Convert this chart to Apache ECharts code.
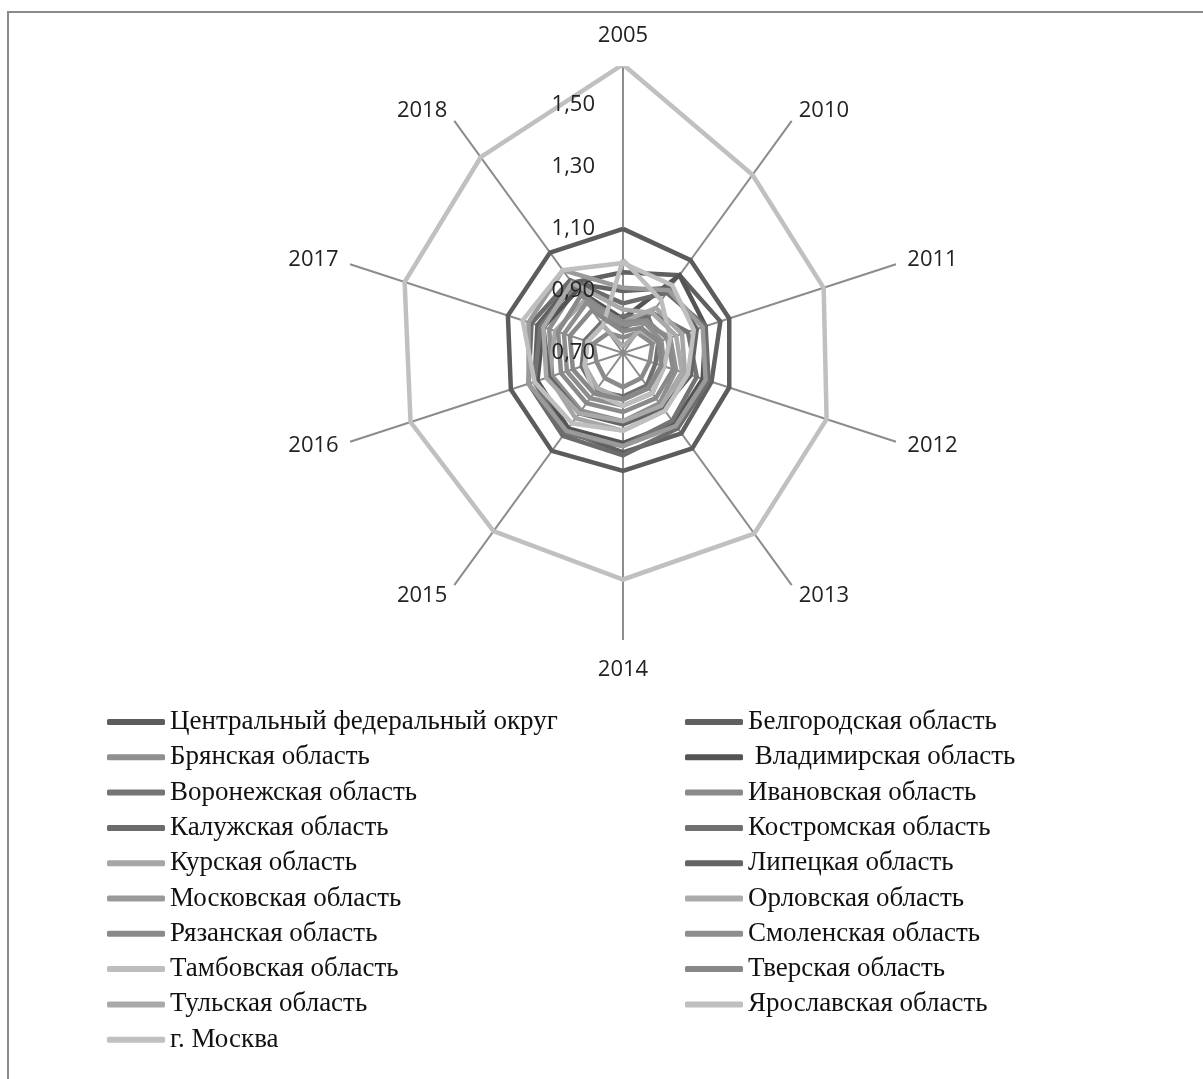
<!DOCTYPE html>
<html>
<head>
<meta charset="utf-8">
<script src="https://cdn.jsdelivr.net/npm/echarts@6/dist/echarts.min.js"></script>
<style>
html,body{margin:0;padding:0;background:#fff;}
#chart{width:1203px;height:1079px;}
</style>
</head>
<body>
<div id="chart"></div>
<script>
var years = ['2005','2010','2011','2012','2013','2014','2015','2016','2017','2018'];
var radiusTicks = [0.70, 0.90, 1.10, 1.30, 1.50];

var names = [
  'Центральный федеральный округ','Белгородская область','Брянская область',' Владимирская область',
  'Воронежская область','Ивановская область','Калужская область','Костромская область',
  'Курская область','Липецкая область','Московская область','Орловская область',
  'Рязанская область','Смоленская область','Тамбовская область','Тверская область',
  'Тульская область','Ярославская область','г. Москва'
];
var colors = ['#5c5c5c','#606060','#8f8f8f','#545454','#747474','#8a8a8a','#6c6c6c','#707070',
  '#a6a6a6','#646464','#9a9a9a','#ababab','#8a8a8a','#8e8e8e','#bdbdbd','#888888','#a9a9a9','#bfbfbf','#c0c0c0'];

var cfo       = [1.10,1.07,1.06,1.06,1.08,1.08,1.09,1.08,1.09,1.10];
var belgorod  = [0.96,1.01,1.03,1.00,1.02,1.02,1.01,1.00,0.99,0.98];
var bryansk   = [0.80,0.82,0.86,0.88,0.90,0.92,0.93,0.94,0.95,0.96];
var vladimir  = [0.81,1.01,0.98,0.97,0.98,0.99,1.00,0.99,0.97,0.95];
var voronezh  = [0.78,0.86,0.92,0.95,0.97,1.00,1.02,1.00,0.98,0.97];
var ivanovo   = [0.75,0.78,0.80,0.79,0.80,0.81,0.80,0.79,0.80,0.78];
var kaluga    = [0.86,0.94,0.98,0.99,1.00,1.03,1.03,1.02,1.01,0.99];
var kostroma  = [0.82,0.84,0.82,0.81,0.83,0.84,0.85,0.84,0.83,0.82];
var kursk     = [0.80,0.88,0.90,0.91,0.93,0.95,0.96,0.95,0.93,0.91];
var lipetsk   = [0.90,0.96,0.95,0.93,0.92,0.93,0.94,0.95,0.97,0.98];
var moscowObl = [0.91,0.95,0.97,0.98,0.99,1.00,1.01,1.02,1.02,1.03];
var orel      = [0.72,0.79,0.82,0.83,0.84,0.85,0.84,0.83,0.82,0.81];
var ryazan    = [0.80,0.83,0.85,0.87,0.88,0.89,0.90,0.91,0.92,0.93];
var smolensk  = [0.79,0.82,0.83,0.84,0.86,0.87,0.88,0.89,0.90,0.90];
var tambov    = [1.00,0.91,0.86,0.84,0.86,0.87,0.86,0.83,0.82,0.81];
var tver      = [0.77,0.80,0.82,0.83,0.84,0.85,0.86,0.87,0.88,0.87];
var tula      = [0.84,0.86,0.88,0.90,0.91,0.92,0.94,0.96,0.97,0.98];
var yaroslavl = [0.99,0.97,0.94,0.92,0.93,0.95,0.98,1.00,1.04,1.03];
var moscow    = [1.63,1.41,1.38,1.39,1.42,1.43,1.41,1.42,1.44,1.48];

var values = [cfo,belgorod,bryansk,vladimir,voronezh,ivanovo,kaluga,kostroma,kursk,lipetsk,
  moscowObl,orel,ryazan,smolensk,tambov,tver,tula,yaroslavl,moscow];

function closedData(arr){
  var d = arr.map(function(v,i){ return [v,i]; });
  d.push([arr[0], arr.length]);
  return d;
}

var series = names.map(function(n,i){
  return {
    name: n, type: 'line', coordinateSystem: 'polar',
    data: closedData(values[i]),
    symbol: 'none', smooth: false, z: 2 + i,
    lineStyle: {color: colors[i], width: 4.5, join: 'miter'},
    itemStyle: {color: colors[i]}
  };
});

var legendText = {fontFamily: 'Liberation Serif', fontSize: 27, color: '#111', lineHeight: 28};
var leftNames = names.filter(function(n,i){ return i % 2 === 0; });
var rightNames = names.filter(function(n,i){ return i % 2 === 1; });
var lblFont = {fontFamily: 'Open Sans', fontSize: 22, color: '#222'};

var chart = echarts.init(document.getElementById('chart'));
chart.setOption({
  backgroundColor: '#ffffff',
  animation: false,
  graphic: [{type:'rect', shape:{x:8, y:12, width:1260, height:1120}, style:{fill:'none', stroke:'#8a8a8a', lineWidth:2}, silent:true}],
  polar: {center: [623, 353], radius: 287},
  angleAxis: {
    type: 'value', min: 0, max: years.length, interval: 1, startAngle: 90, clockwise: true,
    axisLine: {show: false}, axisTick: {show: false},
    splitLine: {show: true, lineStyle: {color: '#8c8c8c', width: 2}},
    axisLabel: {
      show: true, margin: 12,
      fontFamily: 'Open Sans', fontSize: 22, color: '#222',
      formatter: function(v){
        if (v >= years.length) return '';
        if (v === 0 || v === 5) return '{tb|' + years[v] + '}';
        return '{side|' + years[v] + '}';
      },
      rich: {
        tb: Object.assign({lineHeight: 36}, lblFont),
        side: Object.assign({lineHeight: 1}, lblFont)
      }
    }
  },
  radiusAxis: {
    type: 'value', min: 0.7, max: 1.625, interval: 0.2,
    axisLine: {show: false}, axisTick: {show: false}, splitLine: {show: false},
    axisLabel: {
      show: true, showMaxLabel: false, margin: 28,
      fontFamily: 'Open Sans', fontSize: 22, color: '#222',
      formatter: function(v){ return radiusTicks.some(function(t){return Math.abs(t-v)<1e-6;}) ? v.toFixed(2).replace('.', ',') : ''; }
    },
    z: 50
  },
  legend: [
    {data: leftNames, orient: 'vertical', left: 102, top: 703, itemWidth: 58, itemHeight: 6, itemGap: 7.3,
     icon: 'roundRect', textStyle: legendText, selectedMode: false},
    {data: rightNames, orient: 'vertical', left: 680, top: 703, itemWidth: 58, itemHeight: 6, itemGap: 7.3,
     icon: 'roundRect', textStyle: legendText, selectedMode: false}
  ],
  series: series
});
</script>
</body>
</html>
